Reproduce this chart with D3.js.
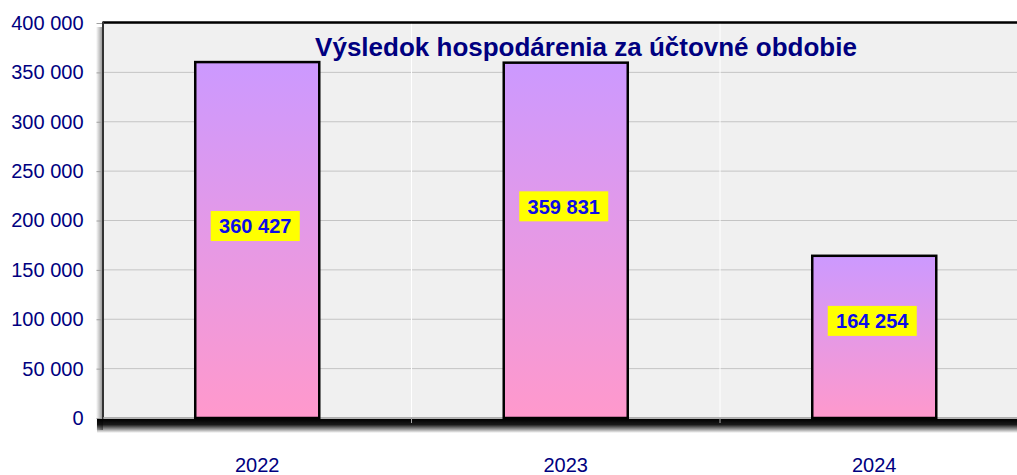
<!DOCTYPE html>
<html>
<head>
<meta charset="utf-8">
<script src="https://cdn.jsdelivr.net/npm/d3@7"></script>
<style>
  html, body { margin: 0; padding: 0; background: #ffffff; }
  svg { display: block; }
</style>
</head>
<body>
<svg id="chart" width="1017" height="475"></svg>
<script>
// ---- data ----
const categories = ["2022", "2023", "2024"];
const values = [360427, 359831, 164254];
const valueLabels = ["360 427", "359 831", "164 254"];
const yTicks = [0, 50000, 100000, 150000, 200000, 250000, 300000, 350000, 400000];
const yTickLabels = ["0", "50 000", "100 000", "150 000", "200 000", "250 000", "300 000", "350 000", "400 000"];
const title = "Výsledok hospodárenia za účtovné obdobie";

// ---- layout (not data) ----
const W = 1017, H = 475;
const plot = { left: 103, top: 23, bottom: 418, bandW: 308.5 };
const labelShift = [-14, -34, -16];

const svg = d3.select("#chart");
const defs = svg.append("defs");

const grad = defs.append("linearGradient").attr("id", "barGrad")
  .attr("x1", 0).attr("y1", 0).attr("x2", 0).attr("y2", 1);
grad.append("stop").attr("offset", "0%").attr("stop-color", "#cc99ff");
grad.append("stop").attr("offset", "100%").attr("stop-color", "#ff99cc");

const shB = defs.append("linearGradient").attr("id", "shB")
  .attr("x1", 0).attr("y1", 0).attr("x2", 0).attr("y2", 1);
shB.append("stop").attr("offset", "0%").attr("stop-color", "#000").attr("stop-opacity", 1);
shB.append("stop").attr("offset", "40%").attr("stop-color", "#000").attr("stop-opacity", 0.9);
shB.append("stop").attr("offset", "100%").attr("stop-color", "#000").attr("stop-opacity", 0);

const shL = defs.append("linearGradient").attr("id", "shL")
  .attr("x1", 1).attr("y1", 0).attr("x2", 0).attr("y2", 0);
shL.append("stop").attr("offset", "0%").attr("stop-color", "#000").attr("stop-opacity", 0.45);
shL.append("stop").attr("offset", "100%").attr("stop-color", "#000").attr("stop-opacity", 0);

const x = d3.scaleBand().domain(categories)
  .range([plot.left, plot.left + plot.bandW * categories.length])
  .paddingInner(0).paddingOuter(0);
const y = d3.scaleLinear().domain([0, 400000]).range([plot.bottom, plot.top]);

const plotRight = x.range()[1];

// shadows
svg.append("rect").attr("x", plot.left - 7).attr("y", plot.top + 4)
  .attr("width", 7).attr("height", plot.bottom - plot.top + 8).attr("fill", "url(#shL)");
svg.append("rect").attr("x", plot.left - 6).attr("y", plot.bottom + 1)
  .attr("width", plotRight - plot.left + 10).attr("height", 14).attr("fill", "url(#shB)");

// plot background
svg.append("rect").attr("x", plot.left).attr("y", plot.top)
  .attr("width", plotRight - plot.left).attr("height", plot.bottom - plot.top)
  .attr("fill", "#f0f0f0");

// horizontal gridlines
svg.append("g").selectAll("line").data(yTicks.slice(1)).join("line")
  .attr("x1", plot.left).attr("x2", plotRight)
  .attr("y1", d => y(d)).attr("y2", d => y(d))
  .attr("stroke", "#c4c4c4").attr("stroke-width", 1);

// vertical white separators
svg.append("g").selectAll("line").data(categories.slice(1)).join("line")
  .attr("x1", d => x(d)).attr("x2", d => x(d))
  .attr("y1", plot.top).attr("y2", plot.bottom)
  .attr("stroke", "#ffffff").attr("stroke-width", 1);
svg.append("g").selectAll("line").data(categories.slice(1)).join("line")
  .attr("x1", d => x(d)).attr("x2", d => x(d))
  .attr("y1", plot.bottom).attr("y2", plot.bottom + 5)
  .attr("stroke", "#aaaaaa").attr("stroke-width", 1);

// y axis ticks & labels
const yAxis = d3.axisLeft(y).tickValues(yTicks)
  .tickFormat((d, i) => yTickLabels[i]).tickSize(6).tickPadding(13);
const gy = svg.append("g").attr("transform", `translate(${plot.left - 0.5},0)`).call(yAxis);
gy.select(".domain").remove();
gy.selectAll(".tick line").attr("stroke", "#a0a0a0");
gy.selectAll(".tick text")
  .attr("fill", "#000080")
  .style("font-family", "'Liberation Sans', Arial, sans-serif")
  .style("font-size", "20px");

// x axis labels
const xAxis = d3.axisBottom(x).tickSize(0).tickPadding(0);
const gx = svg.append("g").attr("transform", `translate(0,${plot.bottom})`).call(xAxis);
gx.select(".domain").remove();
gx.selectAll(".tick text")
  .attr("y", 54).attr("dy", 0)
  .attr("fill", "#000080")
  .style("font-family", "'Liberation Sans', Arial, sans-serif")
  .style("font-size", "20px");

// borders
svg.append("line").attr("x1", plot.left).attr("x2", plotRight)
  .attr("y1", plot.top - 0.5).attr("y2", plot.top - 0.5)
  .attr("stroke", "#000").attr("stroke-width", 2.5);
svg.append("line").attr("x1", plot.left).attr("x2", plot.left)
  .attr("y1", plot.top - 1.5).attr("y2", plot.bottom + 1)
  .attr("stroke", "#333").attr("stroke-width", 2);
svg.append("line").attr("x1", plot.left).attr("x2", plotRight)
  .attr("y1", plot.bottom).attr("y2", plot.bottom)
  .attr("stroke", "#9a9a9a").attr("stroke-width", 1.5);

// bars
const barW = x.bandwidth() * 0.402;
svg.append("g").selectAll("rect").data(values).join("rect")
  .attr("x", (d, i) => x(categories[i]) + (x.bandwidth() - barW) / 2)
  .attr("y", d => y(d))
  .attr("width", barW)
  .attr("height", d => plot.bottom - y(d))
  .attr("fill", "url(#barGrad)")
  .attr("stroke", "#000").attr("stroke-width", 2.5);

// title
svg.append("text").attr("x", 586).attr("y", 56)
  .attr("text-anchor", "middle")
  .attr("fill", "#000080")
  .style("font-family", "'Liberation Sans', Arial, sans-serif")
  .style("font-weight", "bold")
  .style("font-size", "26px")
  .text(title);

// value labels
const lg = svg.append("g").selectAll("g").data(values).join("g")
  .attr("transform", (d, i) => {
    const cx = x(categories[i]) + x.bandwidth() / 2 - 2;
    const cy = (y(d) + plot.bottom) / 2 + labelShift[i];
    return `translate(${cx},${cy})`;
  });
lg.append("rect").attr("x", -44.5).attr("y", -15).attr("width", 89).attr("height", 30)
  .attr("fill", "#ffff00");
lg.append("text").attr("text-anchor", "middle").attr("dy", "0.36em")
  .attr("fill", "#0c0ce8")
  .style("font-family", "'Liberation Sans', Arial, sans-serif")
  .style("font-weight", "bold")
  .style("font-size", "20px")
  .text((d, i) => valueLabels[i]);
</script>
</body>
</html>
